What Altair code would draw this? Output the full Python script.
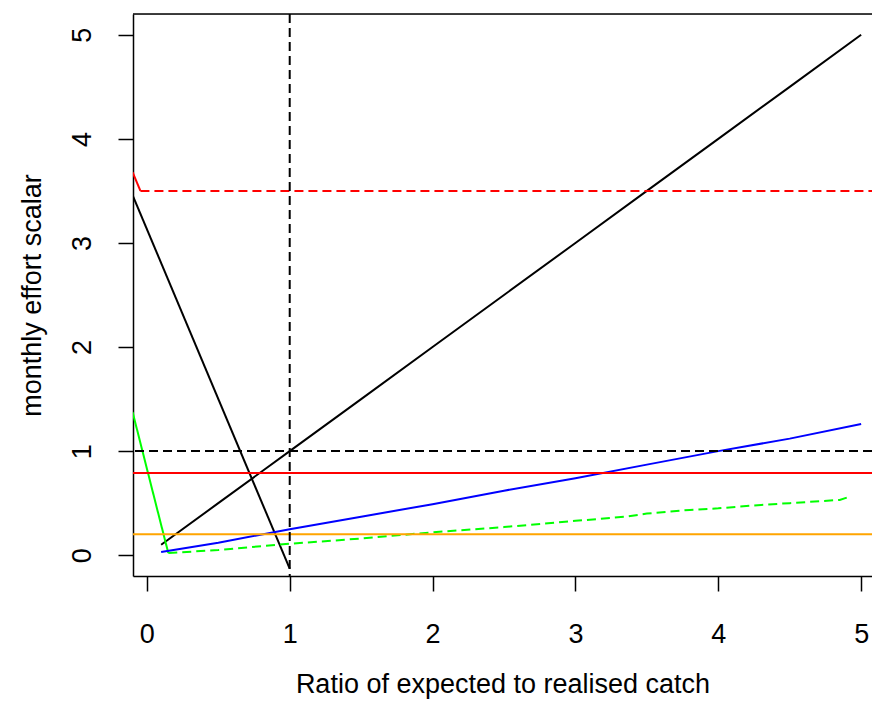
import altair as alt
import pandas as pd

# ---- data ----
black_up_x = [0.1, 0.5, 1.0, 1.5, 2.0, 2.5, 3.0, 3.5, 4.0, 4.5, 5.0]
black_up_y = [0.1, 0.5, 1.0, 1.5, 2.0, 2.5, 3.0, 3.5, 4.0, 4.5, 5.0]

black_down_x = [-0.1, 1.0]
black_down_y = [3.46, -0.13]

red_slope_x = [-0.1, -0.045]
red_slope_y = [3.68, 3.5]
red_dash_x = [-0.045, 5.2]
red_dash_y = [3.5, 3.5]

green_solid_x = [-0.1, 0.15]
green_solid_y = [1.375, 0.02]

green_dash_x = [0.15, 0.5, 1.0, 1.5, 2.0, 2.5, 3.0, 3.35, 3.5, 3.8, 4.0, 4.3, 4.5, 4.85, 4.9]
green_dash_y = [0.02, 0.05, 0.11, 0.16, 0.22, 0.27, 0.33, 0.37, 0.40, 0.435, 0.45, 0.483, 0.50, 0.531, 0.553]

blue_x = [0.1, 0.5, 1.0, 1.5, 2.0, 2.5, 3.0, 3.5, 4.0, 4.5, 5.0]
blue_y = [0.03, 0.12, 0.25, 0.37, 0.49, 0.62, 0.74, 0.87, 1.0, 1.12, 1.26]

hline_black_dash = 1.0
hline_red = 0.79
hline_orange = 0.2
vline_black_dash = 1.0

x_ticks = [0, 1, 2, 3, 4, 5]
y_ticks = [0, 1, 2, 3, 4, 5]

W, H = 739, 562
XDOM = [-0.097, 5.076]
YDOM = [-0.2, 5.2]
FONT = "Liberation Sans"
FS = 27
DASH = [9, 5]
LW = 2


def df(xs, ys):
    return pd.DataFrame({"x": xs, "y": ys, "o": list(range(len(xs)))})


xs = alt.Scale(domain=XDOM, nice=False, zero=False)
ys = alt.Scale(domain=YDOM, nice=False, zero=False)

xax = alt.Axis(values=x_ticks, title="Ratio of expected to realised catch", grid=False,
               tickSize=15, labelFontSize=FS, labelPadding=30, titleFontSize=FS,
               titleFontWeight="normal", titlePadding=24, labelFont=FONT, titleFont=FONT,
               domainColor="black", tickColor="black", labelColor="black", titleColor="black",
               domainWidth=1.5, tickWidth=1.5, labelFlush=False)
yax = alt.Axis(values=y_ticks, title="monthly effort scalar", grid=False,
               tickSize=15, labelFontSize=FS, labelPadding=22, labelAngle=270,
               labelAlign="center", labelBaseline="bottom",
               titleFontSize=FS, titleFontWeight="normal", titlePadding=22,
               labelFont=FONT, titleFont=FONT,
               domainColor="black", tickColor="black", labelColor="black", titleColor="black",
               domainWidth=1.5, tickWidth=1.5, labelFlush=False)

X = lambda: alt.X("x:Q", scale=xs, axis=xax)
Y = lambda: alt.Y("y:Q", scale=ys, axis=yax)


def line(xv, yv, color, dash=None):
    kw = dict(color=color, strokeWidth=LW, clip=True)
    if dash:
        kw["strokeDash"] = dash
    return alt.Chart(df(xv, yv)).mark_line(**kw).encode(x=X(), y=Y(), order="o:Q")


def hline(v, color, dash=None):
    kw = dict(color=color, strokeWidth=LW, clip=True)
    if dash:
        kw["strokeDash"] = dash
    return alt.Chart(pd.DataFrame({"y": [v]})).mark_rule(**kw).encode(y=Y())


def vline(v, color, dash=None):
    kw = dict(color=color, strokeWidth=LW, clip=True)
    if dash:
        kw["strokeDash"] = dash
    return alt.Chart(pd.DataFrame({"x": [v]})).mark_rule(**kw).encode(x=X())


top_border = alt.Chart(pd.DataFrame({"a": [0]})).mark_rule(color="black", strokeWidth=1.5).encode(
    x=alt.value(0), x2=alt.value(W), y=alt.value(0))

chart = alt.layer(
    line(black_up_x, black_up_y, "black"),
    line(black_down_x, black_down_y, "black"),
    line(red_slope_x, red_slope_y, "#FF0000"),
    line(red_dash_x, red_dash_y, "#FF0000", DASH),
    line(green_solid_x, green_solid_y, "#00FF00"),
    line(green_dash_x, green_dash_y, "#00FF00", DASH),
    line(blue_x, blue_y, "#0000FF"),
    hline(hline_black_dash, "black", DASH),
    hline(hline_red, "#FF0000"),
    hline(hline_orange, "#FFA500"),
    vline(vline_black_dash, "black", DASH),
    top_border,
).properties(
    width=W, height=H,
    autosize=alt.AutoSizeParams(type="none"),
    padding={"left": 125, "top": 6, "right": 0, "bottom": 125},
).configure_view(stroke=None).configure(background="white")

chart.save("out.html", embed_options={"renderer": "svg", "actions": False})
